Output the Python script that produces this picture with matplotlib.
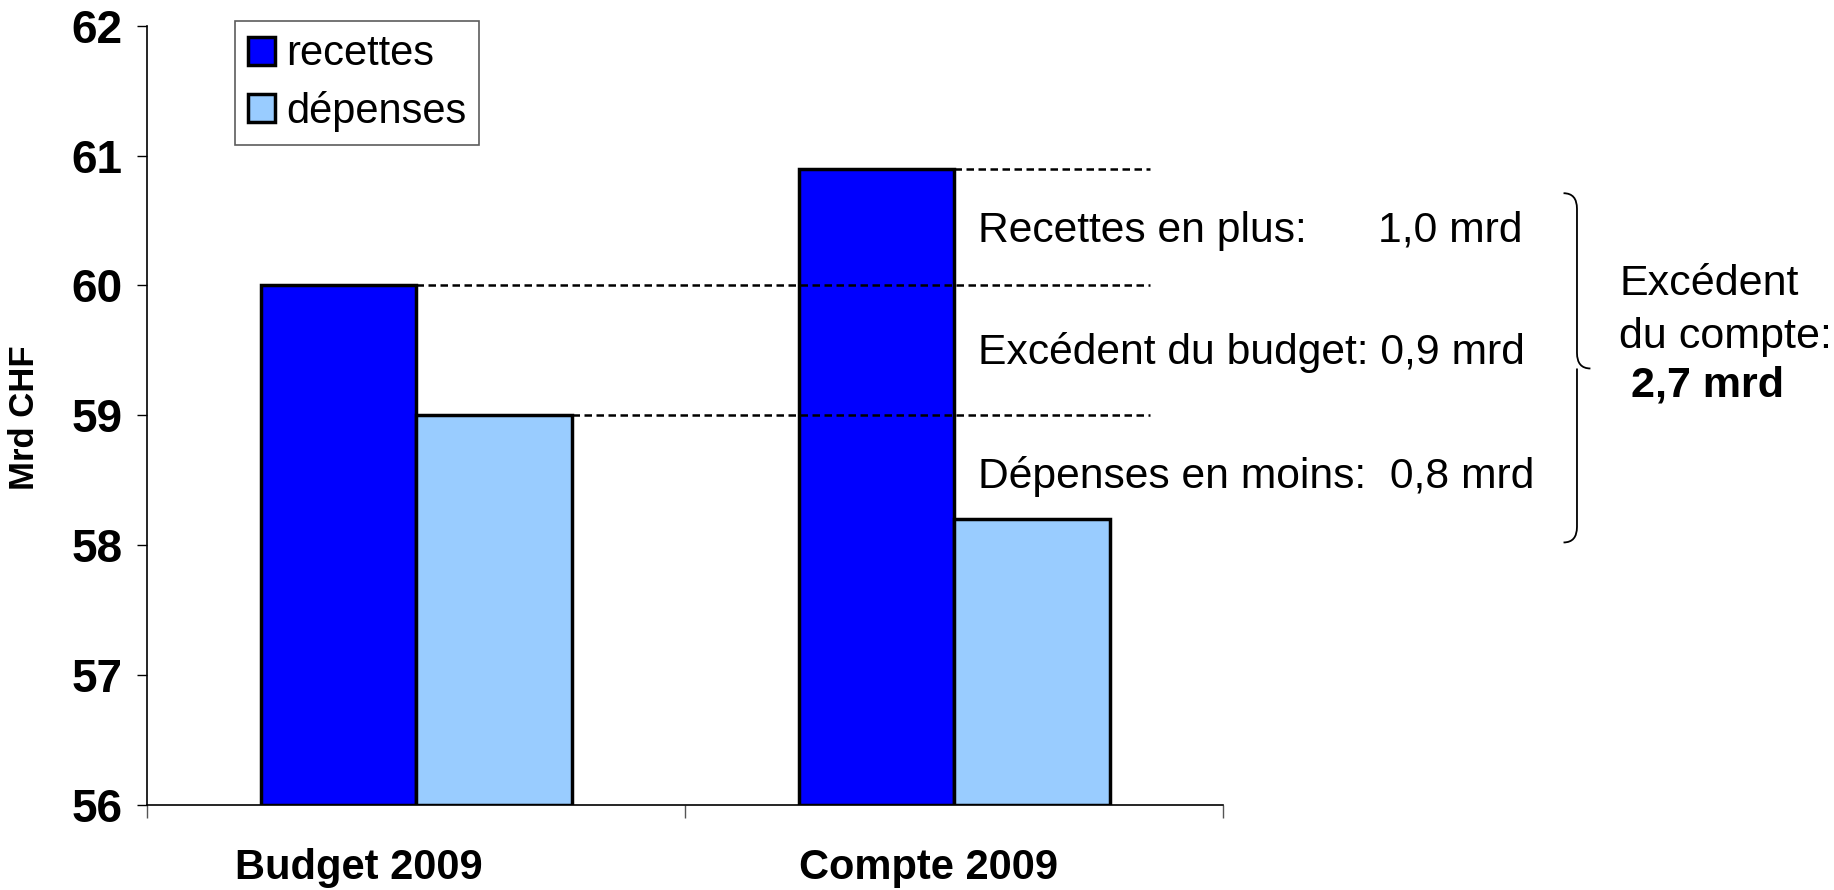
import matplotlib
matplotlib.use("Agg")
import matplotlib.pyplot as plt
import matplotlib.transforms as mtransforms
from matplotlib.path import Path
from matplotlib.patches import PathPatch, Patch
import numpy as np

# ---------------- data ----------------
categories = ["Budget 2009", "Compte 2009"]
recettes = [60.0, 60.9]
depenses = [59.0, 58.2]
series_labels = ["recettes", "dépenses"]
yticks = [56, 57, 58, 59, 60, 61, 62]
annotations = ["Recettes en plus:      1,0 mrd",
               "Excédent du budget: 0,9 mrd",
               "Dépenses en moins:  0,8 mrd"]
annotation_y = [60.42, 59.48, 58.53]
summary_lines = ["Excédent", "du compte:", " 2,7 mrd"]
summary_y = [60.01, 59.60, 59.23]
ylabel = "Mrd CHF"

plt.rcParams['font.family'] = ['Liberation Sans', 'DejaVu Sans']

c_rec = "#0000FF"
c_dep = "#99CCFF"

fig = plt.figure(figsize=(18.34, 8.9), dpi=100)
ax = fig.add_axes([0.0804, 0.0958, 0.6669 - 0.0804, 0.9711 - 0.0958])

x = np.arange(len(categories))
w = 0.289
base = yticks[0]
ax.bar(x - w / 2, np.array(recettes) - base, bottom=base, width=w,
       color=c_rec, edgecolor="black", linewidth=2.5, zorder=2)
ax.bar(x + w / 2, np.array(depenses) - base, bottom=base, width=w,
       color=c_dep, edgecolor="black", linewidth=2.5, zorder=2)

ax.set_xlim(-0.5, 1.5)
ax.set_ylim(yticks[0], yticks[-1])

# dashed reference lines
x_end = 1.365
dash = dict(colors="black", linestyles=(0, (3.0, 1.8)), linewidth=1.8, zorder=3, clip_on=False)
ax.hlines(recettes[0], x[0], x_end, **dash)
ax.hlines(depenses[0], x[0] + w, x_end, **dash)
ax.hlines(recettes[1], x[1], x_end, **dash)

# annotations
for txt, yy in zip(annotations, annotation_y):
    ax.text(1.0435, yy, txt, fontsize=30.7, va="center", ha="left", clip_on=False)

# brace
bx, a = 2.133, 0.025
ytop, ybot = 60.71, 58.02
ymid = 59.36
r = 0.12
verts = [
    (bx, ytop), (bx + a, ytop), (bx + a, ytop - r),
    (bx + a, ymid + r),
    (bx + a, ymid), (bx + 2 * a, ymid),
    (bx + a, ymid), (bx + a, ymid - r),
    (bx + a, ybot + r),
    (bx + a, ybot), (bx, ybot),
]
codes = [Path.MOVETO, Path.CURVE3, Path.CURVE3,
         Path.LINETO,
         Path.CURVE3, Path.CURVE3,
         Path.MOVETO, Path.CURVE3,
         Path.LINETO,
         Path.CURVE3, Path.CURVE3]
ax.add_patch(PathPatch(Path(verts, codes), facecolor="none", edgecolor="black",
                       linewidth=1.3, clip_on=False))

for i, (txt, yy) in enumerate(zip(summary_lines, summary_y)):
    ax.text(2.237, yy, txt, fontsize=31, va="center", ha="left", clip_on=False,
            fontweight="bold" if i == 2 else "normal")

# axes styling
for s in ["top", "right"]:
    ax.spines[s].set_visible(False)
ax.spines["left"].set_linewidth(1.2)
ax.spines["bottom"].set_linewidth(1.2)

ax.set_yticks(yticks)
ax.set_yticklabels([str(v) for v in yticks], fontsize=33, fontweight="bold")
ax.tick_params(axis="y", direction="out", length=7, width=1.0, pad=11)

ax.set_xticks(x)
ax.set_xticklabels(categories, fontsize=30, fontweight="bold")
ax.set_xticks([-0.5, 0.5, 1.5], minor=True)
ax.tick_params(axis="x", which="major", length=0, pad=31)
ax.tick_params(axis="x", which="minor", direction="out", length=9, width=1.0, color="#555555")
label_shift_px = [-58, -26]
for lab, sh in zip(ax.get_xticklabels(), label_shift_px):
    lab.set_transform(lab.get_transform() +
                      mtransforms.ScaledTranslation(sh / 100, 0, fig.dpi_scale_trans))

fig.text(25 / 1834, 1 - 418 / 890, ylabel, rotation=90, fontsize=25,
         fontweight="bold", ha="center", va="center")

handles = [Patch(facecolor=c_rec, edgecolor="black", linewidth=2.5),
           Patch(facecolor=c_dep, edgecolor="black", linewidth=2.5)]
leg = fig.legend(handles, series_labels, loc="upper left",
                 bbox_to_anchor=(235 / 1834, 1 - 21 / 890), fontsize=30,
                 frameon=True, fancybox=False, edgecolor="#333333",
                 handlelength=0.65, handleheight=0.65, handletextpad=0.25,
                 labelspacing=0.4, borderpad=0.32, borderaxespad=0)
leg.get_frame().set_linewidth(1.2)

fig.savefig("out.png", dpi=100)
